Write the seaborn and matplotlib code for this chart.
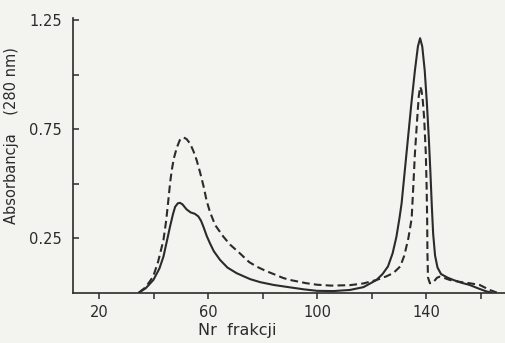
import matplotlib
matplotlib.use("Agg")
import matplotlib.pyplot as plt
import seaborn as sns
import pandas as pd

# ---- data ----
solid_x = [34.5, 37, 39.8, 42, 43.5, 45, 45.9, 47, 47.8, 48.8, 49.6, 50.5, 52, 53.5, 55,
           56.3, 57.3, 58.2, 59.4, 60.6, 62, 64.3, 67, 70.4, 75.3, 79, 84, 90, 95, 100,
           106, 112, 117, 121.8, 124, 126, 127.7, 129.1, 130.2, 131, 132.2, 133.4, 134.6,
           135.9, 137, 137.8, 138.6, 139.5, 140.3, 141, 141.6, 142.1, 142.6, 143.3, 144.2,
           145.5, 148, 150, 153, 156, 159, 162, 164]
solid_y = [0.0, 0.02, 0.058, 0.11, 0.165, 0.25, 0.302, 0.36, 0.394, 0.41, 0.412, 0.405,
           0.382, 0.368, 0.362, 0.35, 0.33, 0.302, 0.26, 0.226, 0.19, 0.15, 0.115, 0.089,
           0.062, 0.048, 0.035, 0.024, 0.015, 0.008, 0.007, 0.012, 0.025, 0.058, 0.085, 0.12,
           0.18, 0.256, 0.34, 0.409, 0.562, 0.715, 0.868, 1.02, 1.13, 1.168, 1.13, 1.02,
           0.87, 0.71, 0.55, 0.4, 0.27, 0.17, 0.115, 0.085, 0.068, 0.058, 0.045, 0.035,
           0.02, 0.006, 0.0]

dash_x = [34.5, 37, 39.7, 41.5, 43.5, 44.5, 45.3, 46.0, 46.6, 47.3, 48.4, 49.5, 50.8, 52,
          53.3, 54.5, 55.7, 57, 58.2, 59.4, 60.6, 62.5, 65.5, 68, 71.6, 75, 77.8, 81, 84,
          87.5, 90, 96, 100, 105, 112, 117, 121.8, 125.5, 128, 130.5, 132, 133.5, 134.7,
          135.3, 135.9, 136.7, 137.3, 137.8, 138.3, 138.8, 139.3, 139.9, 140.2, 140.4,
          140.5, 140.7, 141.4, 142.5, 144, 145, 146.5, 148.7, 152, 156, 159.7, 163.4, 166]
dash_y = [0.0, 0.025, 0.073, 0.14, 0.241, 0.33, 0.424, 0.51, 0.565, 0.615, 0.665, 0.7,
          0.713, 0.705, 0.684, 0.65, 0.608, 0.55, 0.49, 0.42, 0.37, 0.31, 0.257, 0.22, 0.18,
          0.14, 0.119, 0.1, 0.085, 0.067, 0.058, 0.043, 0.036, 0.032, 0.034, 0.042, 0.058,
          0.075, 0.09, 0.12, 0.17, 0.25, 0.34, 0.486, 0.639, 0.791, 0.9, 0.945, 0.93, 0.88,
          0.8, 0.639, 0.486, 0.333, 0.18, 0.07, 0.043, 0.045, 0.068, 0.073, 0.068, 0.058,
          0.05, 0.043, 0.035, 0.012, 0.0]

x_ticks = [20, 40, 60, 80, 100, 120, 140, 160]
x_ticklabels = ["20", "", "60", "", "100", "", "140", ""]
y_ticks = [0.25, 0.5, 0.75, 1.0, 1.25]
y_ticklabels = ["0.25", "", "0.75", "", "1.25"]
x_label = "Nr  frakcji"
y_label = "Absorbancja    (280 nm)"

# ---- drawing ----
sns.set_style("white")
plt.rcParams['font.family'] = ['DejaVu Sans']

bg = "#f3f3ef"
ink = "#2b2b2b"

fig = plt.figure(figsize=(5.05, 3.43), dpi=100, facecolor=bg)
ax = fig.add_axes([0.145, 0.147, 0.855, 0.800])
ax.set_facecolor(bg)

df_s = pd.DataFrame({"x": solid_x, "y": solid_y})
df_d = pd.DataFrame({"x": dash_x, "y": dash_y})

sns.lineplot(data=df_d, x="x", y="y", ax=ax, color=ink, lw=1.5, sort=False,
             dashes=False, estimator=None)
ax.lines[-1].set_dashes([3.7, 2.0])
sns.lineplot(data=df_s, x="x", y="y", ax=ax, color=ink, lw=1.5, sort=False,
             estimator=None)

ax.set_xlim(10.35, 169)
ax.set_ylim(0, 1.26)

for s in ["top", "right"]:
    ax.spines[s].set_visible(False)
for s in ["left", "bottom"]:
    ax.spines[s].set_color(ink)
    ax.spines[s].set_linewidth(1.2)

ax.set_xticks(x_ticks)
ax.set_xticklabels(x_ticklabels)
ax.set_yticks(y_ticks)
ax.set_yticklabels(y_ticklabels)
ax.tick_params(axis="x", bottom=True, direction="out", length=4, width=1.1, color=ink,
               labelsize=10.5, labelcolor=ink, pad=5)
ax.tick_params(axis="y", left=True, direction="in", length=4, width=1.1, color=ink,
               labelsize=10.5, labelcolor=ink, pad=8)

ax.set_xlabel(x_label, fontsize=11.5, color=ink)
ax.set_ylabel(y_label, fontsize=10.5, color=ink)
ax.xaxis.set_label_coords(0.38, -0.11)
ax.yaxis.set_label_coords(-0.125, 0.574)

fig.savefig("out.png", dpi=100, facecolor=bg)
